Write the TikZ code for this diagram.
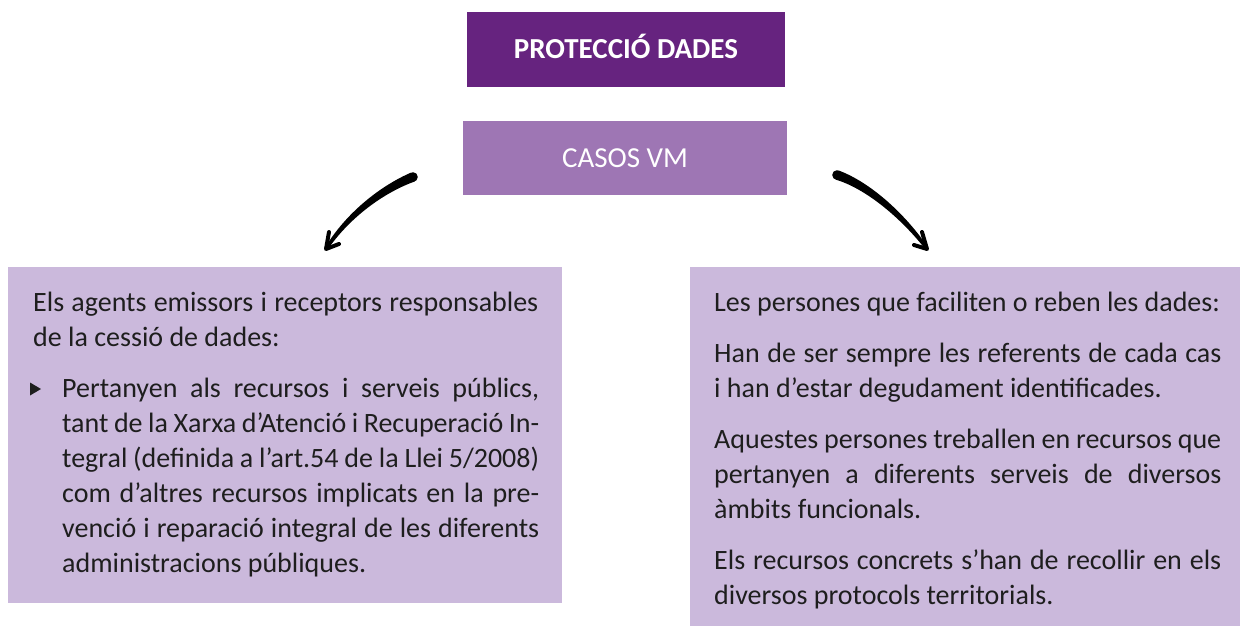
\documentclass[tikz,border=0pt]{standalone}
\usepackage{fontspec}
\setmainfont{Carlito}
\usetikzlibrary{calc}
\definecolor{darkpurple}{HTML}{66237F}
\definecolor{midpurple}{HTML}{9E76B4}
\definecolor{lightpurple}{HTML}{CBB9DC}
\definecolor{txtcol}{HTML}{1E1E1E}
\newcommand\jline[2]{\hbox to #1{#2}}
\newcommand\brushstroke[8]{%
  \fill[black] ($(#1)!#5!90:(#2)$) .. controls ($(#2)!#6!90:(#3)$) and ($(#3)!#7!90:(#4)$) .. ($(#4)!#8!-90:(#3)$)
    -- ($(#4)!#8!90:(#3)$) .. controls ($(#3)!#7!-90:(#4)$) and ($(#2)!#6!-90:(#3)$) .. ($(#1)!#5!-90:(#2)$) -- cycle;
  \fill[black] (#1) circle[radius=#5];
}
\begin{document}
\begin{tikzpicture}[x=1pt,y=-1pt,
  box/.style={rectangle, inner sep=0pt, draw=none},
  txt/.style={anchor=base west, inner sep=0pt, text=txtcol, font=\fontsize{28}{34}\selectfont},
  barb/.style={draw=black, line width=4pt, line cap=round, line join=round}]
\useasboundingbox (0,0) rectangle (1242,627);
% boxes
\node[box, fill=darkpurple, minimum width=318, minimum height=75, text=white,
  font=\fontsize{29}{34}\selectfont\bfseries, text height=18.5, text depth=0] (title) at (626,49.5) {PROTECCIÓ DADES};
\node[box, fill=midpurple, minimum width=324, minimum height=74, text=white,
  font=\fontsize{29}{34}\selectfont, text height=18.5, text depth=0] (casos) at (625,158) {CASOS VM};
\node[box, fill=lightpurple, minimum width=554, minimum height=336] (left) at (285,435) {};
\node[box, fill=lightpurple, minimum width=550, minimum height=359] (right) at (965,446.5) {};
% left text
\node[txt] (l1) at (33,311.5) {\jline{505pt}{Els agents emissors i receptors responsables}};
\node[txt] (l2) at (33,346.5) {de la cessió de dades:};
\fill[txtcol] (30,382.5) -- (30,395.5) -- (41,389) -- cycle;
\node[txt] (b1) at (62,397.5) {\jline{477pt}{Pertanyen als recursos i serveis públics,}};
\node[txt] (b2) at (62,432.5) {\jline{477pt}{tant de la Xarxa d’Atenció i Recuperació In-}};
\node[txt] (b3) at (62,467.5) {\jline{477pt}{tegral (definida a l’art.54 de la Llei 5/2008)}};
\node[txt] (b4) at (62,502.5) {\jline{477pt}{com d’altres recursos implicats en la pre-}};
\node[txt] (b5) at (62,537.5) {\jline{477pt}{venció i reparació integral de les diferents}};
\node[txt] (b6) at (62,572.5) {administracions públiques.};
% right text
\node[txt] (r1) at (714,311.5) {Les persones que faciliten o reben les dades:};
\node[txt] (r2) at (714,362.5) {\jline{507pt}{Han de ser sempre les referents de cada cas}};
\node[txt] (r3) at (714,397.5) {i han d’estar degudament identificades.};
\node[txt] (r4) at (714,448.5) {\jline{507pt}{Aquestes persones treballen en recursos que}};
\node[txt] (r5) at (714,483.5) {\jline{507pt}{pertanyen a diferents serveis de diversos}};
\node[txt] (r6) at (714,518.5) {àmbits funcionals.};
\node[txt] (r7) at (714,569.5) {\jline{507pt}{Els recursos concrets s’han de recollir en els}};
\node[txt] (r8) at (714,604.5) {diversos protocols territorials.};
% left arrow
\coordinate (la0) at (413,177);
\coordinate (la1) at (385,188);
\coordinate (la2) at (351,212);
\coordinate (la3) at (328,246);
\coordinate (ltip) at (326,249);
\coordinate (lbA) at (329,232);
\coordinate (lbB) at (339,244);
\brushstroke{la0}{la1}{la2}{la3}{4.8pt}{4pt}{3pt}{1.7pt}
\draw[barb] (lbA) -- (ltip) -- (lbB);
% right arrow
\coordinate (ra0) at (837,175);
\coordinate (ra1) at (867,185);
\coordinate (ra2) at (901,214);
\coordinate (ra3) at (925,246);
\coordinate (rtip) at (927,249);
\coordinate (rbA) at (922,232);
\coordinate (rbB) at (914,245);
\brushstroke{ra0}{ra1}{ra2}{ra3}{4.8pt}{4pt}{3pt}{1.7pt}
\draw[barb] (rbA) -- (rtip) -- (rbB);
\end{tikzpicture}
\end{document}
